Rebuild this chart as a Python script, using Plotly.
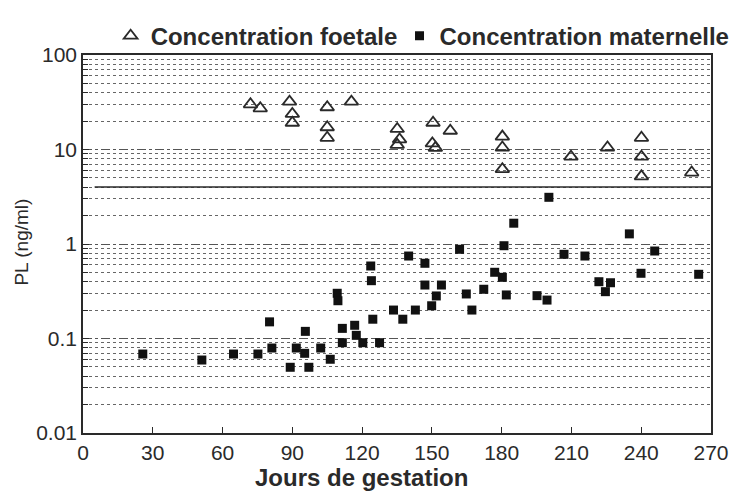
import plotly.graph_objects as go

# Fetal concentration (open triangles)
foetal_days = [72.0, 76.2, 88.8, 90.0, 90.0, 105.0, 105.0, 105.0, 115.4, 135.1, 136.1, 135.1,
               150.5, 150.2, 151.5, 157.9, 180.3, 180.3, 180.3, 209.8, 225.5, 240.1, 240.1, 240.1, 261.7]
foetal_pl = [30.1, 27.3, 32.1, 23.8, 19.2, 28.0, 17.2, 13.3, 32.1, 16.5, 12.8, 11.2,
             19.2, 11.6, 10.4, 15.8, 13.7, 10.5, 6.2, 8.4, 10.5, 13.3, 8.4, 5.2, 5.7]

# Maternal concentration (filled squares)
maternal_days = [25.7, 51.1, 64.7, 75.2, 80.2, 81.2, 89.1, 91.7, 95.6, 95.3, 97.1, 102.2, 106.3,
                 109.3, 109.6, 111.5, 111.5, 116.8, 117.5, 120.3, 123.7, 124.0, 124.6, 127.5,
                 133.5, 137.5, 140.0, 142.9, 147.0, 147.0, 149.9, 151.9, 154.1, 161.9, 164.8,
                 167.2, 172.3, 177.0, 180.3, 181.0, 182.0, 185.2, 195.2, 199.5, 200.3, 206.8,
                 215.8, 221.8, 224.6, 226.8, 234.9, 239.9, 245.8, 264.7]
maternal_pl = [0.0685, 0.0592, 0.0685, 0.0685, 0.150, 0.0793, 0.0496, 0.0793, 0.119, 0.0697, 0.0496,
               0.0793, 0.0603, 0.301, 0.251, 0.128, 0.0903, 0.138, 0.108, 0.0903, 0.585, 0.409,
               0.160, 0.0903, 0.200, 0.160, 0.746, 0.200, 0.625, 0.368, 0.222, 0.282, 0.368,
               0.879, 0.296, 0.200, 0.332, 0.502, 0.444, 0.959, 0.289, 1.66, 0.284, 0.255, 3.12,
               0.778, 0.746, 0.399, 0.313, 0.389, 1.28, 0.490, 0.843, 0.478]

# Reference threshold line
threshold_days = [5, 270]
threshold_pl = [4, 4]

x_ticks = [0, 30, 60, 90, 120, 150, 180, 210, 240, 270]
y_ticks = [0.01, 0.1, 1, 10, 100]
y_ticklabels = ["0.01", "0.1", "1", "10", "100"]

FONT = "Liberation Sans"
INK = "#2a2a2a"

fig = go.Figure()
fig.add_trace(go.Scatter(
    x=threshold_days, y=threshold_pl, mode="lines",
    line=dict(color=INK, width=1.5), showlegend=False, hoverinfo="skip"))
fig.add_trace(go.Scatter(
    x=foetal_days, y=foetal_pl, mode="markers", name="Concentration foetale",
    legend="legend",
    marker=dict(symbol="triangle-up-open", size=12, color=INK, line=dict(width=1.8, color=INK))))
fig.add_trace(go.Scatter(
    x=maternal_days, y=maternal_pl, mode="markers", name="Concentration maternelle",
    legend="legend2",
    marker=dict(symbol="square", size=9, color="#111111", line=dict(width=0))))

legend_font = dict(family=FONT, size=24, color=INK, weight="bold")

fig.update_layout(
    width=731, height=491,
    margin=dict(l=83, r=20, t=55, b=58, autoexpand=False),
    paper_bgcolor="white", plot_bgcolor="white",
    font=dict(family=FONT, color=INK),
    showlegend=True,
    legend=dict(orientation="h", x=0.044, xanchor="left", y=1.05, yanchor="middle",
                font=legend_font, bgcolor="rgba(0,0,0,0)", itemclick=False),
    legend2=dict(orientation="h", x=0.504, xanchor="left", y=1.05, yanchor="middle",
                 font=legend_font, bgcolor="rgba(0,0,0,0)", itemclick=False),
    xaxis=dict(range=[0, 270], tickvals=x_ticks, ticks="inside", ticklen=6, tickwidth=1.2,
               tickcolor=INK, showgrid=False, zeroline=False, showline=True, linecolor=INK,
               linewidth=1.5, mirror=True, tickfont=dict(family=FONT, size=21, color=INK),
               ticklabelstandoff=0),
    yaxis=dict(type="log", range=[-2, 2], tickvals=y_ticks, ticktext=y_ticklabels,
               ticks="inside", ticklen=6, tickwidth=1.2, tickcolor=INK,
               showgrid=True, gridcolor="#555555", gridwidth=1, griddash="dashdot",
               minor=dict(dtick="D1", showgrid=True, gridcolor="#666666", gridwidth=1,
                          griddash="dot", ticks="inside", ticklen=5, tickcolor=INK),
               zeroline=False, showline=True, linecolor=INK, linewidth=1.5, mirror=True,
               tickfont=dict(family=FONT, size=21, color=INK)),
    annotations=[
        dict(text="<b>Jours de gestation</b>", xref="paper", yref="paper", x=0.444, y=-0.118,
             xanchor="center", yanchor="middle", showarrow=False,
             font=dict(family=FONT, size=24, color=INK)),
        dict(text="PL (ng/ml)", xref="paper", yref="paper", x=-0.098, y=0.505,
             xanchor="center", yanchor="middle", textangle=-90, showarrow=False,
             font=dict(family=FONT, size=19, color=INK)),
    ],
)

fig.write_html("out.html")
